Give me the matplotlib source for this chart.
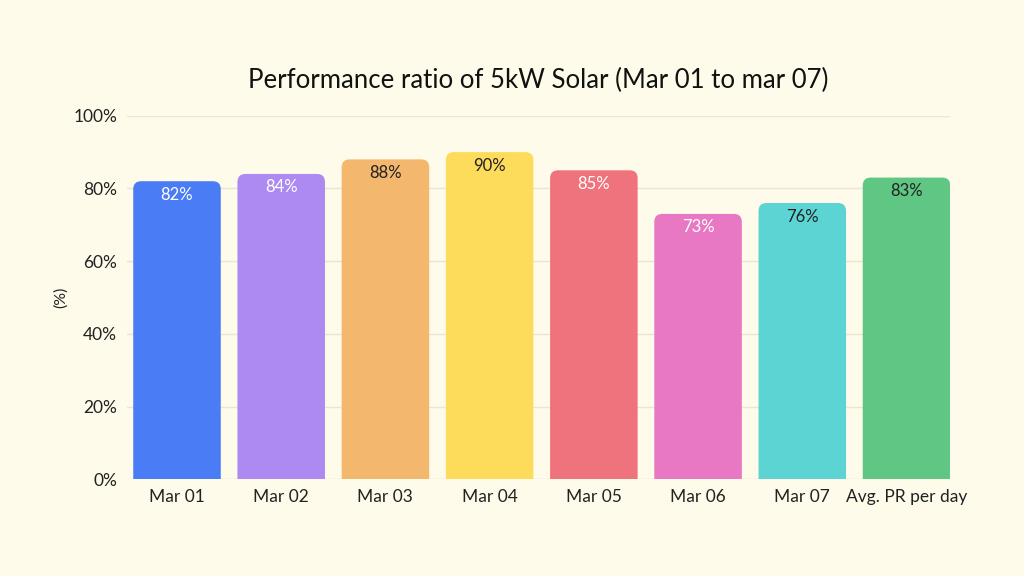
import matplotlib.pyplot as plt
from matplotlib.patches import FancyBboxPatch

plt.rcParams['font.family'] = ['Lato', 'DejaVu Sans']

days = ['Mar 01', 'Mar 02', 'Mar 03', 'Mar 04', 'Mar 05', 'Mar 06', 'Mar 07', 'Avg. PR per day']
pr = [82, 84, 88, 90, 85, 73, 76, 83]
colors = ['#4A7CF5', '#AC8AF2', '#F3B76D', '#FDDC5C', '#EE737C', '#E878C4', '#5CD4D4', '#5FC783']
label_colors = ['#FFFFFF', '#FFFFFF', '#222222', '#222222', '#FFFFFF', '#FFFFFF', '#222222', '#222222']

bg = '#FEFBEA'
fig = plt.figure(figsize=(10.24, 5.76), dpi=100, facecolor=bg)
ax = fig.add_axes([0.124, 0.168, 0.804, 0.631], facecolor=bg)

ax.set_xlim(-0.48, 7.42)
ax.set_ylim(0, 100)

bars = ax.bar(range(len(days)), pr, width=0.84, color=colors, zorder=2)

# swap each bar for a rounded one; bottom corners fall below y=0 and are clipped
bbox = ax.get_window_extent()
px_per_x = bbox.width / (ax.get_xlim()[1] - ax.get_xlim()[0])
px_per_y = bbox.height / (ax.get_ylim()[1] - ax.get_ylim()[0])
r = 8 / px_per_x
for i, b in enumerate(bars):
    p = FancyBboxPatch((b.get_x(), -5), b.get_width(), b.get_height() + 5,
                       boxstyle=f"round,pad=0,rounding_size={r}",
                       mutation_aspect=px_per_x / px_per_y,
                       fc=colors[i], ec='none', zorder=2)
    ax.add_patch(p)
    b.set_visible(False)
    ax.annotate(f"{pr[i]}%", (i, pr[i]), xytext=(0, -4), textcoords='offset points',
                ha='center', va='top', fontsize=12, color=label_colors[i], zorder=3)

ax.set_yticks(range(0, 101, 20))
ax.set_yticklabels([f"{t}%" for t in range(0, 101, 20)], fontsize=12.5, color='#222222')
ax.set_xticks(range(len(days)))
ax.set_xticklabels(days, fontsize=12.5, color='#222222')
ax.tick_params(length=0, pad=7)
ax.grid(axis='y', color='#E9E6D3', linewidth=1, zorder=0)
for s in ax.spines.values():
    s.set_visible(False)

ax.set_ylabel('(%)', fontsize=11.5, color='#222222', labelpad=4)
ax.set_title('Performance ratio of 5kW Solar (Mar 01 to mar 07)', fontsize=18.5,
             color='#111111', pad=20)

fig.savefig('out.png', dpi=100, facecolor=bg)
